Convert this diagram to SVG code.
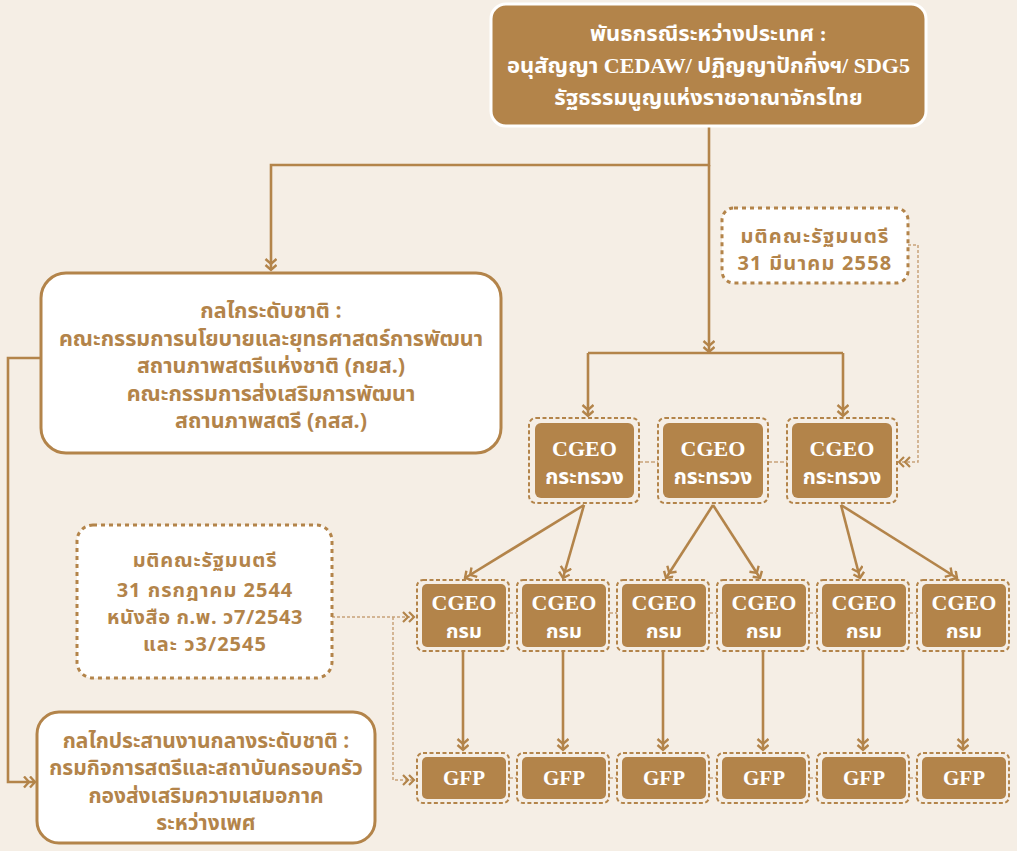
<svg xmlns="http://www.w3.org/2000/svg" width="1017" height="851" viewBox="0 0 1017 851">
<style>
.bg{fill:#F5EEE5}
.solid{fill:none;stroke:#B3844A;stroke-width:2.6}
.light{fill:none;stroke:#C8A27A;stroke-width:1.5;stroke-dasharray:3 2}
.link{fill:none;stroke:#C8A27A;stroke-width:1.5;stroke-dasharray:4 2}
.outer{fill:none;stroke:#B3844A;stroke-width:2;stroke-dasharray:4 2.5}
.inner{fill:#B3844A}
.wbox{fill:#FFFFFF;stroke:#B3844A;stroke-width:3}
.dbox{fill:#FFFFFF;stroke:#B3844A;stroke-width:3;stroke-dasharray:4 4}
.th{font-family:"Noto Sans Thai","Noto Sans","DejaVu Sans",sans-serif;font-weight:bold;fill:#B3844A;text-anchor:middle}
.wt{font-family:"Noto Sans Thai","Noto Sans","DejaVu Sans",sans-serif;font-weight:bold;fill:#FFFFFF;text-anchor:middle}
.ser{font-family:"Liberation Serif","Noto Sans Thai","Noto Sans",serif;font-weight:bold;fill:#FFFFFF;text-anchor:middle}
</style>
<defs>
<marker id="dc" markerUnits="userSpaceOnUse" markerWidth="16" markerHeight="14" refX="12" refY="6" orient="auto" viewBox="0 0 16 14">
<path d="M1,0.5 L6,6 L1,11.5 M7,0.5 L12,6 L7,11.5" fill="none" stroke="#B3844A" stroke-width="2.4"/>
</marker>
<marker id="dl" markerUnits="userSpaceOnUse" markerWidth="16" markerHeight="14" refX="12" refY="6" orient="auto" viewBox="0 0 16 14">
<path d="M1,1 L6,6 L1,11 M7,1 L12,6 L7,11" fill="none" stroke="#B3844A" stroke-width="2.2"/>
</marker>
</defs>
<rect class="bg" x="0" y="0" width="1017" height="851"/>

<g id="connectors">
<path class="solid" d="M709,126 V165 H271 V270" marker-end="url(#dc)"/>
<path class="solid" d="M709,165 V352" marker-end="url(#dc)"/>
<path class="solid" d="M588,353 H843"/>
<path class="solid" d="M588,353 V416" marker-end="url(#dc)"/>
<path class="solid" d="M843,353 V416" marker-end="url(#dc)"/>
<path class="solid" d="M41,358 H8 V782 H35" marker-end="url(#dc)"/>
<path class="solid" d="M584,505 L465,578" marker-end="url(#dc)"/>
<path class="solid" d="M584,505 L563,578" marker-end="url(#dc)"/>
<path class="solid" d="M713,505 L666,578" marker-end="url(#dc)"/>
<path class="solid" d="M713,505 L760,578" marker-end="url(#dc)"/>
<path class="solid" d="M841,505 L860,578" marker-end="url(#dc)"/>
<path class="solid" d="M841,505 L957,578" marker-end="url(#dc)"/>
<path class="solid" d="M463,651 V750" marker-end="url(#dc)"/>
<path class="solid" d="M563,651 V750" marker-end="url(#dc)"/>
<path class="solid" d="M663,651 V750" marker-end="url(#dc)"/>
<path class="solid" d="M763,651 V750" marker-end="url(#dc)"/>
<path class="solid" d="M863,651 V750" marker-end="url(#dc)"/>
<path class="solid" d="M963,651 V750" marker-end="url(#dc)"/>
<path class="link" d="M639,462 H658 M768,462 H787"/>
<path class="link" d="M509,613 H517 M609,613 H617 M709,613 H717 M809,613 H817 M909,613 H917"/>
<path class="link" d="M509,778 H517 M609,778 H617 M709,778 H717 M809,778 H817 M909,778 H917"/>
<path class="light" d="M908,245 H918 V462 H899" marker-end="url(#dl)"/>
<path class="light" d="M332,617 H414" marker-end="url(#dl)"/>
<path class="light" d="M393,617 V780 H414" marker-end="url(#dl)"/>
</g>

<g id="node-international">
<rect x="491" y="4" width="435" height="122" rx="15" fill="#B3844A" stroke="#FFFFFF" stroke-width="3"/>
<text class="ser" x="708.5" y="41" font-size="22">พันธกรณีระหว่างประเทศ :</text>
<text class="ser" x="708.5" y="73" font-size="22">อนุสัญญา CEDAW/ ปฏิญญาปักกิ่งฯ/ SDG5</text>
<text class="ser" x="708.5" y="105" font-size="22">รัฐธรรมนูญแห่งราชอาณาจักรไทย</text>
</g>

<g id="node-national">
<rect class="wbox" x="41" y="273" width="460" height="180" rx="25"/>
<text class="th" x="271" y="318" font-size="21.5">กลไกระดับชาติ :</text>
<text class="th" x="271" y="346" font-size="21.5">คณะกรรมการนโยบายและยุทธศาสตร์การพัฒนา</text>
<text class="th" x="271" y="373" font-size="21.5">สถานภาพสตรีแห่งชาติ (กยส.)</text>
<text class="th" x="271" y="401" font-size="21.5">คณะกรรมการส่งเสริมการพัฒนา</text>
<text class="th" x="271" y="428" font-size="21.5">สถานภาพสตรี (กสส.)</text>
</g>

<g id="node-resolution-2558">
<rect class="dbox" x="722" y="208" width="186" height="75" rx="12"/>
<text class="th" x="815" y="243" font-size="20" letter-spacing="1.2">มติคณะรัฐมนตรี</text>
<text class="th" x="815" y="270" font-size="20" letter-spacing="1.2">31 มีนาคม 2558</text>
</g>

<g id="node-resolution-2544">
<rect class="dbox" x="77" y="525" width="255" height="153" rx="16"/>
<text class="th" x="205" y="567" font-size="20" letter-spacing="0.8">มติคณะรัฐมนตรี</text>
<text class="th" x="205" y="597" font-size="20" letter-spacing="1">31 กรกฎาคม 2544</text>
<text class="th" x="205" y="624" font-size="20" letter-spacing="0.6">หนังสือ ก.พ. ว7/2543</text>
<text class="th" x="205" y="651" font-size="20" letter-spacing="1">และ ว3/2545</text>
</g>

<g id="node-coordination">
<rect class="wbox" x="37" y="712" width="338" height="131" rx="22"/>
<text class="th" x="206" y="748" font-size="21">กลไกประสานงานกลางระดับชาติ :</text>
<text class="th" x="206" y="775" font-size="21">กรมกิจการสตรีและสถาบันครอบครัว</text>
<text class="th" x="206" y="803" font-size="21">กองส่งเสริมความเสมอภาค</text>
<text class="th" x="206" y="830" font-size="21">ระหว่างเพศ</text>
</g>

<g id="node-ministry-1">
<rect class="outer" x="529" y="418" width="110" height="85" rx="7"/>
<rect class="inner" x="535" y="423" width="99" height="75" rx="6"/>
<text class="ser" x="584.5" y="456" font-size="22">CGEO</text>
<text class="wt" x="584.5" y="484" font-size="21">กระทรวง</text>
</g>
<g id="node-ministry-2">
<rect class="outer" x="658" y="418" width="110" height="85" rx="7"/>
<rect class="inner" x="663" y="423" width="100" height="75" rx="6"/>
<text class="ser" x="713" y="456" font-size="22">CGEO</text>
<text class="wt" x="713" y="484" font-size="21">กระทรวง</text>
</g>
<g id="node-ministry-3">
<rect class="outer" x="787" y="418" width="110" height="85" rx="7"/>
<rect class="inner" x="792" y="423" width="100" height="75" rx="6"/>
<text class="ser" x="842" y="456" font-size="22">CGEO</text>
<text class="wt" x="842" y="484" font-size="21">กระทรวง</text>
</g>

<g id="node-dept-1"><rect class="outer" x="417" y="580" width="92" height="71" rx="6"/><rect class="inner" x="422" y="584" width="84" height="63" rx="5"/><text class="ser" x="464" y="610" font-size="22">CGEO</text><text class="wt" x="464" y="638" font-size="20">กรม</text></g>
<g id="node-dept-2"><rect class="outer" x="517" y="580" width="92" height="71" rx="6"/><rect class="inner" x="522" y="584" width="84" height="63" rx="5"/><text class="ser" x="564" y="610" font-size="22">CGEO</text><text class="wt" x="564" y="638" font-size="20">กรม</text></g>
<g id="node-dept-3"><rect class="outer" x="617" y="580" width="92" height="71" rx="6"/><rect class="inner" x="622" y="584" width="84" height="63" rx="5"/><text class="ser" x="664" y="610" font-size="22">CGEO</text><text class="wt" x="664" y="638" font-size="20">กรม</text></g>
<g id="node-dept-4"><rect class="outer" x="717" y="580" width="92" height="71" rx="6"/><rect class="inner" x="722" y="584" width="84" height="63" rx="5"/><text class="ser" x="764" y="610" font-size="22">CGEO</text><text class="wt" x="764" y="638" font-size="20">กรม</text></g>
<g id="node-dept-5"><rect class="outer" x="817" y="580" width="92" height="71" rx="6"/><rect class="inner" x="822" y="584" width="84" height="63" rx="5"/><text class="ser" x="864" y="610" font-size="22">CGEO</text><text class="wt" x="864" y="638" font-size="20">กรม</text></g>
<g id="node-dept-6"><rect class="outer" x="917" y="580" width="92" height="71" rx="6"/><rect class="inner" x="922" y="584" width="84" height="63" rx="5"/><text class="ser" x="964" y="610" font-size="22">CGEO</text><text class="wt" x="964" y="638" font-size="20">กรม</text></g>

<g id="node-gfp-1"><rect class="outer" x="417" y="753" width="92" height="50" rx="6"/><rect class="inner" x="422" y="757" width="84" height="42" rx="5"/><text class="ser" x="464" y="785" font-size="21">GFP</text></g>
<g id="node-gfp-2"><rect class="outer" x="517" y="753" width="92" height="50" rx="6"/><rect class="inner" x="522" y="757" width="84" height="42" rx="5"/><text class="ser" x="564" y="785" font-size="21">GFP</text></g>
<g id="node-gfp-3"><rect class="outer" x="617" y="753" width="92" height="50" rx="6"/><rect class="inner" x="622" y="757" width="84" height="42" rx="5"/><text class="ser" x="664" y="785" font-size="21">GFP</text></g>
<g id="node-gfp-4"><rect class="outer" x="717" y="753" width="92" height="50" rx="6"/><rect class="inner" x="722" y="757" width="84" height="42" rx="5"/><text class="ser" x="764" y="785" font-size="21">GFP</text></g>
<g id="node-gfp-5"><rect class="outer" x="817" y="753" width="92" height="50" rx="6"/><rect class="inner" x="822" y="757" width="84" height="42" rx="5"/><text class="ser" x="864" y="785" font-size="21">GFP</text></g>
<g id="node-gfp-6"><rect class="outer" x="917" y="753" width="92" height="50" rx="6"/><rect class="inner" x="922" y="757" width="84" height="42" rx="5"/><text class="ser" x="964" y="785" font-size="21">GFP</text></g>
</svg>
